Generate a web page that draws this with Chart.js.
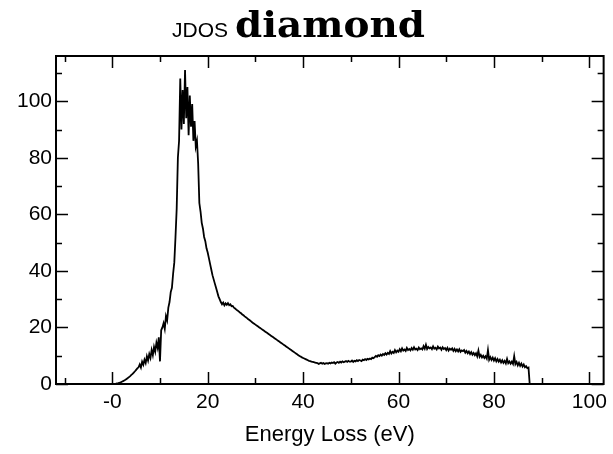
<!DOCTYPE html>
<html>
<head>
<meta charset="utf-8">
<script src="https://cdn.jsdelivr.net/npm/chart.js@4/dist/chart.umd.min.js"></script>
<style>
  html, body { margin: 0; padding: 0; background: #fff; }
  #wrap { width: 613px; height: 454px; position: relative; }
</style>
</head>
<body>
<div id="wrap"><canvas id="c" width="613" height="454"></canvas></div>
<script>
// Joint density of states of diamond vs. energy loss, sampled every 0.25 eV from 0 eV.
const ENERGY_START = 0;
const ENERGY_STEP = 0.25;
const jdos = [
  // 0 - 4.75 eV
  0, 0, 0.05, 0.1, 0.2, 0.3, 0.45, 0.6, 0.8, 1.0, 1.25, 1.5, 1.8, 2.1, 2.45, 2.8, 3.2, 3.6, 4.05, 4.5,
  // 5 - 9.75 eV
  5.0, 5.5, 5.9, 6.9, 5.8, 7.9, 6.8, 8.6, 7.4, 9.8, 8.3, 10.6, 9.2, 12.0, 10.2, 13.1, 11.4, 14.6, 12.8, 16.5,
  // 10 - 14.75 eV
  8.0, 19.0, 20.0, 21.5, 19.5, 24.0, 22.5, 27.0, 29.0, 32.5, 34.0, 39.0, 43.0, 52.0, 62.0, 80.0, 86.0, 108.0, 90.0, 104.0,
  // 15 - 19.75 eV
  92, 111, 94, 105, 88, 102, 91, 99, 86, 93, 84, 86, 78, 64, 61, 57, 55, 52, 50.5, 48,
  // 20 - 24.75 eV
  46.5, 44.5, 42.5, 40.5, 38.5, 37.0, 35.5, 34.0, 32.5, 31.0, 30.0, 29.0, 28.2, 28.8, 27.8, 28.5, 28.0, 28.6, 27.9, 28.2,
  // 25 - 29.75 eV
  27.5, 27.6, 27.0, 26.7, 26.3, 26.0, 25.7, 25.3, 25.0, 24.6, 24.3, 23.9, 23.6, 23.3, 22.9, 22.6, 22.3, 21.9, 21.6, 21.3,
  // 30 - 34.75 eV
  21.0, 20.7, 20.4, 20.1, 19.8, 19.5, 19.2, 18.9, 18.6, 18.3, 18.0, 17.7, 17.4, 17.1, 16.8, 16.5, 16.2, 15.9, 15.6, 15.3,
  // 35 - 39.75 eV
  15.0, 14.7, 14.4, 14.1, 13.8, 13.5, 13.2, 12.9, 12.6, 12.3, 12.0, 11.7, 11.4, 11.1, 10.8, 10.5, 10.2, 9.9, 9.7, 9.4,
  // 40 - 44.75 eV
  9.2, 9.0, 8.8, 8.6, 8.4, 8.2, 8.1, 7.9, 7.8, 7.7, 7.6, 7.5, 7.4, 7.1, 7.3, 7.5, 7.2, 7.4, 7.1, 7.3,
  // 45 - 49.75 eV
  7.4, 7.2, 7.5, 7.3, 7.6, 7.4, 7.7, 7.2, 7.6, 7.8, 7.5, 7.9, 7.6, 8.0, 7.7, 7.9, 8.1, 7.8, 8.2, 7.9,
  // 50 - 54.75 eV
  7.9, 8.3, 7.8, 8.2, 8.0, 8.4, 8.1, 8.5, 8.3, 8.1, 8.6, 8.4, 8.8, 8.5, 8.9, 8.7, 9.0, 8.8, 9.3, 9.1,
  // 55 - 59.75 eV
  9.5, 9.9, 9.6, 10.2, 9.9, 10.4, 10.0, 10.6, 10.3, 10.9, 10.4, 11.0, 10.6, 11.6, 10.8, 11.4, 11.0, 12.0, 11.2, 11.8,
  // 60 - 64.75 eV
  11.4, 12.3, 11.6, 12.6, 11.8, 12.2, 11.7, 12.8, 12.0, 12.4, 11.9, 12.7, 12.1, 13.0, 12.2, 12.5, 12.0, 12.9, 12.3, 12.6,
  // 65 - 69.75 eV
  12.2, 13.4, 12.5, 13.9, 12.4, 13.1, 12.6, 12.9, 12.3, 13.3, 12.5, 12.8, 12.2, 13.2, 12.6, 12.9, 12.1, 13.0, 12.4, 12.7,
  // 70 - 74.75 eV
  12.0, 12.8, 11.8, 12.5, 12.1, 12.6, 11.7, 12.4, 11.6, 12.2, 11.5, 12.3, 11.4, 11.9, 11.6, 12.0, 11.1, 11.7, 10.9, 11.5,
  // 75 - 79.75 eV
  10.6, 11.3, 10.4, 11.0, 10.2, 10.9, 9.8, 11.8, 9.6, 10.3, 9.4, 10.0, 9.2, 9.8, 9.0, 12.0, 8.6, 9.5, 8.5, 9.3,
  // 80 - 84.75 eV
  8.3, 9.1, 8.0, 8.8, 7.9, 8.6, 7.6, 8.4, 7.5, 8.2, 7.3, 8.9, 7.4, 8.0, 7.2, 7.9, 7.1, 9.8, 7.0, 7.8,
  // 85 - 87.5 eV
  6.6, 7.5, 6.4, 7.2, 6.2, 6.9, 5.9, 6.3, 5.6, 5.8, 0
];

const xMajorTicks = [0, 20, 40, 60, 80, 100];
const xTickLabels = ['-0', '20', '40', '60', '80', '100'];
const xMinorTicks = [-10, 10, 30, 50, 70, 90];
const yMajorTicks = [0, 20, 40, 60, 80, 100];
const yTickLabels = ['0', '20', '40', '60', '80', '100'];
const yMinorTicks = [10, 30, 50, 70, 90, 110];

const titleSmall = 'JDOS';
const titleBig = 'diamond';
const xTitle = 'Energy Loss (eV)';

const points = jdos.map((v, i) => ({ x: ENERGY_START + i * ENERGY_STEP, y: v }));

// Box frame with inward-pointing major and minor ticks on all four sides.
const framePlugin = {
  id: 'frame',
  afterDatasetsDraw(chart) {
    const { ctx, chartArea: a, scales: { x, y } } = chart;
    ctx.save();
    ctx.strokeStyle = '#000';
    ctx.lineWidth = 2;
    ctx.strokeRect(a.left, a.top, a.right - a.left, a.bottom - a.top);
    ctx.lineWidth = 1.5;
    const vTick = (v, len) => {
      const px = Math.round(x.getPixelForValue(v)) + 0.5;
      ctx.beginPath();
      ctx.moveTo(px, a.bottom); ctx.lineTo(px, a.bottom - len);
      ctx.moveTo(px, a.top); ctx.lineTo(px, a.top + len);
      ctx.stroke();
    };
    const hTick = (v, len) => {
      const py = Math.round(y.getPixelForValue(v)) + 0.5;
      ctx.beginPath();
      ctx.moveTo(a.left, py); ctx.lineTo(a.left + len, py);
      ctx.moveTo(a.right, py); ctx.lineTo(a.right - len, py);
      ctx.stroke();
    };
    xMajorTicks.forEach(v => vTick(v, 12));
    xMinorTicks.forEach(v => vTick(v, 6));
    yMajorTicks.forEach(v => hTick(v, 12));
    yMinorTicks.forEach(v => hTick(v, 6));
    ctx.restore();
  }
};

// Two-font title: small sans "JDOS" followed by a large bold serif word.
const titlePlugin = {
  id: 'mixedTitle',
  afterDraw(chart) {
    const ctx = chart.ctx;
    ctx.save();
    ctx.fillStyle = '#000';
    ctx.textBaseline = 'alphabetic';
    ctx.textAlign = 'left';
    ctx.font = '21px "Liberation Sans", Arial, sans-serif';
    ctx.fillText(titleSmall, 172, 37);
    ctx.font = 'bold 35px "DejaVu Serif", serif';
    const w = ctx.measureText(titleBig).width;
    const target = 190;
    ctx.translate(235, 37);
    ctx.scale(target / w, 1);
    ctx.fillText(titleBig, 0, 0);
    ctx.restore();
  }
};

const tickFont = { family: '"Liberation Sans", Arial, sans-serif', size: 21 };

new Chart(document.getElementById('c'), {
  type: 'line',
  data: {
    datasets: [{
      data: points,
      borderColor: '#000',
      borderWidth: 1.8,
      pointRadius: 0,
      tension: 0,
      fill: false
    }]
  },
  options: {
    responsive: false,
    animation: false,
    devicePixelRatio: 1,
    parsing: false,
    layout: { padding: { top: 56, right: 6, left: 0, bottom: 0 } },
    plugins: { legend: { display: false }, tooltip: { enabled: false }, title: { display: false } },
    scales: {
      x: {
        type: 'linear',
        min: -11.8,
        max: 103,
        grid: { display: false, drawTicks: false },
        border: { display: false },
        afterBuildTicks(scale) { scale.ticks = xMajorTicks.map(v => ({ value: v })); },
        afterFit(scale) { scale.height = 70; },
        ticks: {
          color: '#000',
          font: tickFont,
          padding: 6,
          maxRotation: 0,
          autoSkip: false,
          callback: (value, index) => xTickLabels[index]
        },
        title: {
          display: true,
          text: xTitle,
          color: '#000',
          font: { family: '"Liberation Sans", Arial, sans-serif', size: 22 },
          padding: { top: 0, bottom: 6 }
        }
      },
      y: {
        type: 'linear',
        min: 0,
        max: 116,
        grid: { display: false, drawTicks: false },
        border: { display: false },
        afterBuildTicks(scale) { scale.ticks = yMajorTicks.map(v => ({ value: v })); },
        afterFit(scale) { scale.width = 56; },
        ticks: {
          color: '#000',
          font: tickFont,
          padding: 4,
          autoSkip: false,
          callback: (value, index) => yTickLabels[index]
        }
      }
    }
  },
  plugins: [framePlugin, titlePlugin]
});
</script>
</body>
</html>
